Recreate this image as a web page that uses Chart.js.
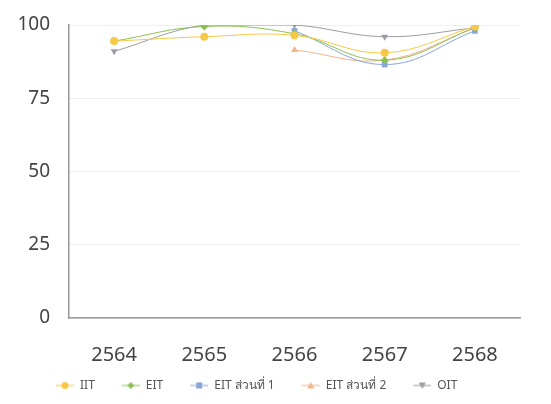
<!DOCTYPE html>
<html lang="th">
<head>
  <meta charset="UTF-8" />
  <title>กราฟ</title>
  <script src="https://cdn.jsdelivr.net/npm/chart.js"></script>
  <style>
    html, body { margin: 0; padding: 0; background: #fff; }
    .chart-box { width: 551px; height: 404px; }
  </style>
</head>
<body>
  <div class="chart-box"><canvas id="scoreChart"></canvas></div>
  <script>
    // ข้อมูล
    const years = ['2564', '2565', '2566', '2567', '2568'];
    const iit = [94.5, 96, 96.5, 90.5, 99.5];
    const eit = [94.5, 99.5, 97, 88, 99];
    const eitPart1 = [null, null, 98, 86.5, 98];
    const eitPart2 = [null, null, 91.5, 88, 99];
    const oit = [91, 100, 100, 96, 99];
    const yTicks = [0, 25, 50, 75, 100];

    const FONT = '"Noto Sans", sans-serif';
    const KEY_W = 29; // ความกว้างสัญลักษณ์ในคำอธิบาย

    function series(label, data, color, style, rotation) {
      return {
        label: label,
        data: data,
        borderColor: color,
        backgroundColor: color,
        borderWidth: 1,
        pointStyle: style,
        pointRotation: rotation || 0,
        pointRadius: 4,
        pointBorderWidth: 0,
        tension: 0.4,
        fill: false
      };
    }

    // สัญลักษณ์เส้น+จุด แบบ Excel
    function keyImage(color, style, rotation) {
      const c = document.createElement('canvas');
      c.width = KEY_W; c.height = 10;
      const g = c.getContext('2d');
      const cx = KEY_W - 9, cy = 5;
      g.strokeStyle = color; g.fillStyle = color; g.lineWidth = 1;
      g.beginPath(); g.moveTo(KEY_W - 18, cy); g.lineTo(KEY_W, cy); g.stroke();
      g.beginPath();
      if (style === 'circle') {
        g.arc(cx, cy, 3.5, 0, Math.PI * 2);
      } else if (style === 'rectRot') {
        g.moveTo(cx, cy - 3.5); g.lineTo(cx + 3.5, cy); g.lineTo(cx, cy + 3.5); g.lineTo(cx - 3.5, cy);
      } else if (style === 'rect') {
        g.rect(cx - 3, cy - 3, 6, 6);
      } else if (rotation === 180) {
        g.moveTo(cx - 3.5, cy - 3); g.lineTo(cx + 3.5, cy - 3); g.lineTo(cx, cy + 3.5);
      } else {
        g.moveTo(cx - 3.5, cy + 3); g.lineTo(cx + 3.5, cy + 3); g.lineTo(cx, cy - 3.5);
      }
      g.closePath(); g.fill();
      return c;
    }

    // เลื่อนคำอธิบายไปทางขวาเล็กน้อย
    const legendShift = {
      id: 'legendShift',
      afterLayout(chart) {
        if (chart.legend) chart.legend.left = 29;
      }
    };

    new Chart(document.getElementById('scoreChart'), {
      type: 'line',
      data: {
        labels: years,
        datasets: [
          series('IIT', iit, '#f7c746', 'circle'),
          series('EIT', eit, '#8cc152', 'rectRot'),
          series('EIT ส่วนที่ 1', eitPart1, '#87a6d6', 'rect'),
          series('EIT ส่วนที่ 2', eitPart2, '#f2b48a', 'triangle'),
          series('OIT', oit, '#9a9da3', 'triangle', 180)
        ]
      },
      options: {
        responsive: true,
        maintainAspectRatio: false,
        animation: false,
        layout: { padding: { top: 25, right: 31, bottom: 2.5, left: 4 } },
        plugins: {
          legend: {
            position: 'bottom',
            align: 'start',
            labels: {
              usePointStyle: true,
              pointStyleWidth: KEY_W,
              boxHeight: 10,
              padding: 16,
              color: '#555',
              font: { family: FONT, size: 12 },
              generateLabels(chart) {
                const items = Chart.defaults.plugins.legend.labels.generateLabels(chart);
                items.forEach((it, i) => {
                  const ds = chart.data.datasets[i];
                  it.pointStyle = keyImage(ds.borderColor, ds.pointStyle, ds.pointRotation);
                  it.rotation = 0;
                });
                return items;
              }
            }
          },
          tooltip: { enabled: false }
        },
        scales: {
          x: {
            offset: true,
            grid: { display: false },
            border: { color: '#9a9a9a', width: 1.5 },
            ticks: { color: '#444', padding: 17, font: { family: FONT, size: 20 } },
            afterFit(axis) {
              axis.height = 45.5;
              axis.paddingLeft = 0; axis.paddingRight = 0;
            }
          },
          y: {
            min: 0,
            max: 100,
            afterBuildTicks(axis) { axis.ticks = yTicks.map(v => ({ value: v })); },
            afterFit(axis) {
              axis.width = 65;
              axis.paddingTop = 0; axis.paddingBottom = 0;
            },
            grid: { color: '#efefef', drawTicks: false },
            border: { color: '#9a9a9a', width: 1.5 },
            ticks: { color: '#444', padding: 19, font: { family: FONT, size: 19 } }
          }
        }
      },
      plugins: [legendShift]
    });
  </script>
</body>
</html>
